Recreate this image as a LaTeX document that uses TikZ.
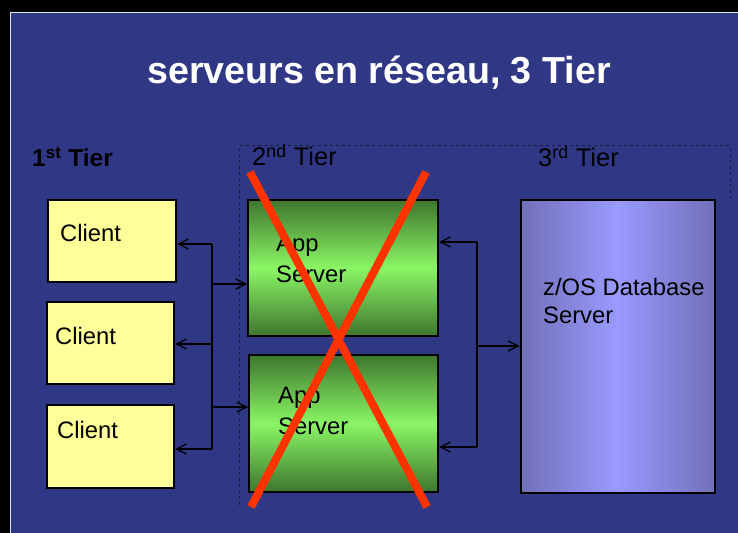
\documentclass[tikz,border=0pt]{standalone}
\usepackage{fontspec}
\setmainfont{Liberation Sans}
\usetikzlibrary{arrows.meta}
\definecolor{bgblue}{RGB}{48,56,134}
\definecolor{clientfill}{RGB}{255,255,153}
\definecolor{gdark}{RGB}{62,118,46}
\definecolor{glight}{RGB}{138,246,100}
\definecolor{pedge}{RGB}{112,112,184}
\definecolor{pmid}{RGB}{154,154,255}
\definecolor{xred}{RGB}{255,51,0}
\tikzset{
  box/.style={draw=black, line width=2bp, inner sep=0pt, rectangle},
  clientbox/.style={box, fill=clientfill},
  appbox/.style={box, top color=gdark, bottom color=gdark, middle color=glight},
  dbbox/.style={box, left color=pedge, right color=pedge, middle color=pmid},
  lbl/.style={inner sep=0pt, text=black, font=\fontsize{23.8bp}{31bp}\selectfont},
  tierlbl/.style={inner sep=0pt, text=black, font=\fontsize{25.5bp}{28bp}\selectfont},
  titlelbl/.style={inner sep=0pt, text=white, font=\fontsize{37.6bp}{44bp}\selectfont\bfseries},
  bus/.style={draw=black, line width=1.3bp},
  arr/.style={draw=black, line width=1.3bp, -{Straight Barb[length=10bp,width=10bp]}},
  redx/.style={draw=xred, line width=8bp},
  tierframe/.style={draw=black, line width=1bp, dash pattern=on 3bp off 3bp, opacity=0.5}
}
\begin{document}
\begin{tikzpicture}[x=1bp,y=-1bp]
\useasboundingbox (0,0) rectangle (738,533);
\fill[black] (0,0) rectangle (738,533);
\fill[bgblue] (10,12) rectangle (738,533);
\draw[white!80!gray, line width=1bp] (10.5,533) -- (10.5,12.5) -- (738,12.5);

% tier frame
\draw[tierframe] (239,505) -- (239,146) -- (730,146) -- (730,198);

% title and tiers
\node[titlelbl, anchor=base] (title) at (379,84) {serveurs en réseau, 3 Tier};
\node[tierlbl, font=\fontsize{24.5bp}{28bp}\selectfont\bfseries, anchor=base west] (tier1) at (32,167) {1\textsuperscript{st} Tier};
\node[tierlbl, anchor=base west] (tier2) at (252,166) {2\textsuperscript{nd} Tier};
\node[tierlbl, anchor=base west] (tier3) at (538,167) {3\textsuperscript{rd} Tier};

% boxes
\node[clientbox, minimum width=128bp, minimum height=82bp] (c1) at (112,241) {};
\node[clientbox, minimum width=127bp, minimum height=82bp] (c2) at (110.5,343) {};
\node[clientbox, minimum width=127bp, minimum height=83bp] (c3) at (110.5,446.5) {};
\node[appbox, minimum width=190bp, minimum height=136bp] (a1) at (343,268) {};
\node[appbox, minimum width=189bp, minimum height=137bp] (a2) at (343.5,423.5) {};
\node[dbbox, minimum width=194bp, minimum height=293bp] (db) at (617.5,346.5) {};

% labels
\node[lbl, anchor=base west] (tc1) at (60,242) {Client};
\node[lbl, anchor=base west] (tc2) at (55,344) {Client};
\node[lbl, anchor=base west] (tc3) at (57,438) {Client};
\node[lbl, align=left, anchor=north west] (ta1) at (276,235) {App\\Server};
\node[lbl, align=left, anchor=north west] (ta2) at (278,387) {App\\Server};
\node[lbl, align=left, anchor=north west, font=\fontsize{23.8bp}{28bp}\selectfont] (tdb) at (543,278) {z/OS Database\\Server};

% left bus
\coordinate (L1) at (212,244);
\coordinate (L2) at (212,284);
\coordinate (L3) at (212,344);
\coordinate (L4) at (212,407);
\coordinate (L5) at (212,449);
\draw[bus] (L1) -- (L5);
\draw[arr] (L1) -- (L1 -| c1.east);
\draw[arr] (L2) -- (L2 -| a1.west);
\draw[arr] (L3) -- (L3 -| c2.east);
\draw[arr] (L4) -- (L4 -| a2.west);
\draw[arr] (L5) -- (L5 -| c3.east);

% right bus
\coordinate (R1) at (477,242);
\coordinate (R2) at (477,346);
\coordinate (R3) at (477,447);
\draw[bus] (R1) -- (R3);
\draw[arr] (R1) -- (R1 -| a1.east);
\draw[arr] (R2) -- (R2 -| db.west);
\draw[arr] (R3) -- (R3 -| a2.east);

% red cross
\coordinate (xa1) at (250,172);
\coordinate (xa2) at (427,507);
\coordinate (xb1) at (426,172);
\coordinate (xb2) at (251,507);
\draw[redx] (xa1) -- (xa2);
\draw[redx] (xb1) -- (xb2);
\end{tikzpicture}
\end{document}
